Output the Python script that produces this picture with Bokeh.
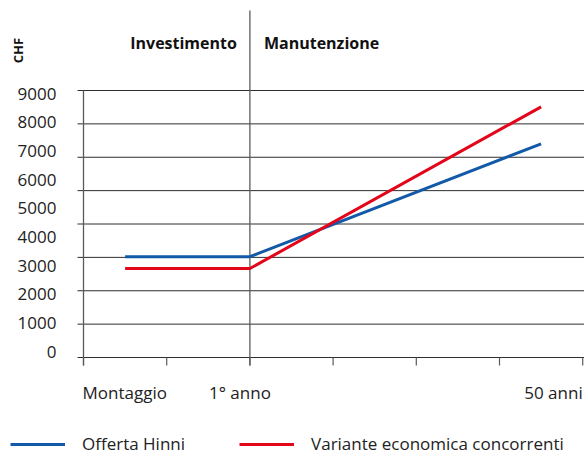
import math
from bokeh.plotting import figure
from bokeh.models import Label, Legend, LegendItem, Range1d
from bokeh.embed import file_html
from bokeh.resources import INLINE

# ---------------- data ----------------
stage_x = [0.5, 2, 5.5]                 # 0 = Montaggio, 2 = 1° anno, 6 = 50 anni
offerta_hinni = [3400, 3400, 7200]
variante_concorrenti = [3000, 3000, 8450]
series_names = ["Offerta Hinni", "Variante economica concorrenti"]
series_colors = ["#1259a8", "#e3061b"]

y_tick_values = [0, 1000, 2000, 3000, 4000, 5000, 6000, 7000, 8000, 9000]
y_tick_labels = ["0", "1000", "2000", "3000", "4000", "5000", "6000", "7000", "8000", "9000"]
grid_values = [0, 1125, 2250, 3375, 4500, 5625, 6750, 7875, 9000]
x_tick_positions = [0, 1, 2, 3, 4, 5, 6]
x_labels = ["Montaggio", "1° anno", "50 anni"]
x_label_pos = [0, 2, 6]
x_label_align = ["left", "center", "right"]
x_label_offset = [-1, -10, 0]
section_labels = ["Investimento", "Manutenzione"]
section_split = 2
y_unit = "CHF"

# ---------------- geometry (canvas pixels) ----------------
W, H = 584, 455
X0PX, XPX = 83, 83.2        # pixel of x=0 and pixels per unit
Y0PX, YTOPPX = 357, 90      # pixel rows of y=0 and y=9000
K = (Y0PX - YTOPPX) / 9000.0
LBL0, LBL9 = 351, 93        # rows where the tick labels 0 and 9000 sit


def dx(px):
    return (px - X0PX) / XPX


def dy(py):
    return (Y0PX - py) / K


FONT = "Open Sans"
TXT = "#222222"

p = figure(width=W, height=H, output_backend="svg", toolbar_location=None,
           x_range=Range1d(dx(0), dx(W)), y_range=Range1d(dy(H), dy(0)),
           x_axis_location=None, y_axis_location=None,
           min_border_left=0, min_border_right=0, min_border_top=0,
           min_border_bottom=0)
p.outline_line_color = None
p.background_fill_color = "white"
p.border_fill_color = "white"
p.xgrid.visible = False
p.ygrid.visible = False

# horizontal grid lines
n = len(grid_values)
p.segment(x0=[dx(77)] * n, y0=grid_values, x1=[dx(W)] * n, y1=grid_values,
          line_color="#2e2e2e", line_width=1)

# y tick labels
lbl_y = [dy(LBL0 - v * (LBL0 - LBL9) / 9000.0) for v in y_tick_values]
p.text(x=[dx(56)] * len(y_tick_values), y=lbl_y, text=y_tick_labels,
       text_align="right", text_baseline="middle", text_font={"value": FONT},
       text_font_size="17px", text_color=TXT)

# vertical axis line, x ticks and section divider
low = dy(365)
p.segment(x0=[0], y0=[low], x1=[0], y1=[grid_values[-1]], line_color="#5a5a5a", line_width=1.3)
p.segment(x0=x_tick_positions, y0=[0] * len(x_tick_positions), x1=x_tick_positions,
          y1=[low] * len(x_tick_positions), line_color="#5a5a5a", line_width=1.2)
p.segment(x0=[section_split], y0=[low], x1=[section_split], y1=[dy(10)],
          line_color="#5a5a5a", line_width=1.3)

# series
r1 = p.line(stage_x, offerta_hinni, line_color=series_colors[0], line_width=3)
r2 = p.line(stage_x, variante_concorrenti, line_color=series_colors[1], line_width=3)

# x labels
for t, xp, al, off in zip(x_labels, x_label_pos, x_label_align, x_label_offset):
    p.add_layout(Label(x=xp, y=dy(392), text=t, text_align=al, text_baseline="middle",
                       x_offset=off, text_font=FONT, text_font_size="17px",
                       text_color=TXT))

# section headers
p.add_layout(Label(x=section_split, y=dy(42), x_offset=-13, text=section_labels[0],
                   text_align="right", text_baseline="middle", text_font=FONT,
                   text_font_size="16px", text_font_style="bold", text_color="#111111"))
p.add_layout(Label(x=section_split, y=dy(42), x_offset=14, text=section_labels[1],
                   text_align="left", text_baseline="middle", text_font=FONT,
                   text_font_size="16px", text_font_style="bold", text_color="#111111"))

# unit label
p.add_layout(Label(x=dx(17.5), y=dy(50), text=y_unit, angle=math.pi / 2,
                   text_align="center", text_baseline="middle", text_font=FONT,
                   text_font_size="13px", text_font_style="bold", text_color="#111111"))

legend = Legend(items=[LegendItem(label=series_names[0], renderers=[r1]),
                       LegendItem(label=series_names[1], renderers=[r2])],
                orientation="horizontal", location=(10, 0),
                glyph_width=55, glyph_height=20, label_height=20, label_standoff=17,
                spacing=54, padding=0, margin=0, border_line_color=None,
                background_fill_alpha=0, label_text_font=FONT,
                label_text_font_size="17px", label_text_color=TXT)
p.add_layout(legend)

open("out.html", "w").write(file_html(p, INLINE))
